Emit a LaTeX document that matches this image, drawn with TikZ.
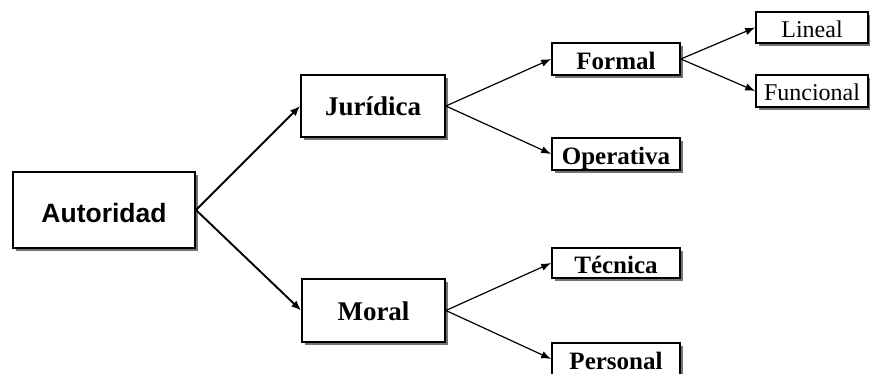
\documentclass[tikz,border=0pt]{standalone}
\usepackage{fontspec}
\setmainfont{Liberation Serif}
\newfontfamily\arialf{Liberation Sans}
\usetikzlibrary{arrows.meta,shadows}
\begin{document}
\begin{tikzpicture}[x=1pt,y=-1pt,
  box/.style={draw=black, fill=white, line width=1.6pt, inner sep=0pt,
    drop shadow={shadow xshift=2.6pt, shadow yshift=-2.6pt, fill=black!55, opacity=1},
    text depth=0pt, align=center},
  big/.style={box, line width=2pt, text height=24.4pt, font=\arialf\bfseries\fontsize{26.5}{30}\selectfont},
  lvone/.style={box, line width=1.8pt, text height=20pt, font=\bfseries\fontsize{27}{31}\selectfont},
  lvtwo/.style={box, text height=21.5pt, font=\bfseries\fontsize{25}{29}\selectfont},
  lvthree/.style={box, text height=19.9pt, font=\fontsize{24}{28}\selectfont},
  mainarrow/.style={line width=1.9pt, -{Latex[length=10pt,width=8pt]}},
  subarrow/.style={line width=1.2pt, -{Latex[length=10pt,width=7.5pt]}}
]
\useasboundingbox (0,0) rectangle (870,374);
\node[big, minimum width=182pt, minimum height=76pt] (aut) at (104,210) {Autoridad};
\node[lvone, minimum width=144pt, minimum height=62pt] (jur) at (373,106) {Jurídica};
\node[lvone, minimum width=143pt, minimum height=63pt] (mor) at (373.5,310.5) {Moral};
\node[lvtwo, minimum width=128pt, minimum height=32pt] (for) at (616,59) {Formal};
\node[lvtwo, minimum width=128pt, minimum height=32pt] (ope) at (616,154) {Operativa};
\node[lvtwo, minimum width=128pt, minimum height=30pt] (tec) at (616,263) {Técnica};
\node[lvtwo, minimum width=128pt, minimum height=32pt] (per) at (616,359) {Personal};
\node[lvthree, minimum width=112pt, minimum height=31pt] (lin) at (812,27.5) {Lineal};
\node[lvthree, minimum width=112pt, minimum height=32pt] (fun) at (812,91) {Funcional};
\draw[mainarrow] (aut.east) -- (jur.west);
\draw[mainarrow] (aut.east) -- (mor.west);
\draw[subarrow] (jur.east) -- (for.west);
\draw[subarrow] (jur.east) -- (ope.west);
\draw[subarrow] (mor.east) -- (tec.west);
\draw[subarrow] (mor.east) -- (per.west);
\draw[subarrow] (for.east) -- (lin.west);
\draw[subarrow] (for.east) -- (fun.west);
\end{tikzpicture}
\end{document}
